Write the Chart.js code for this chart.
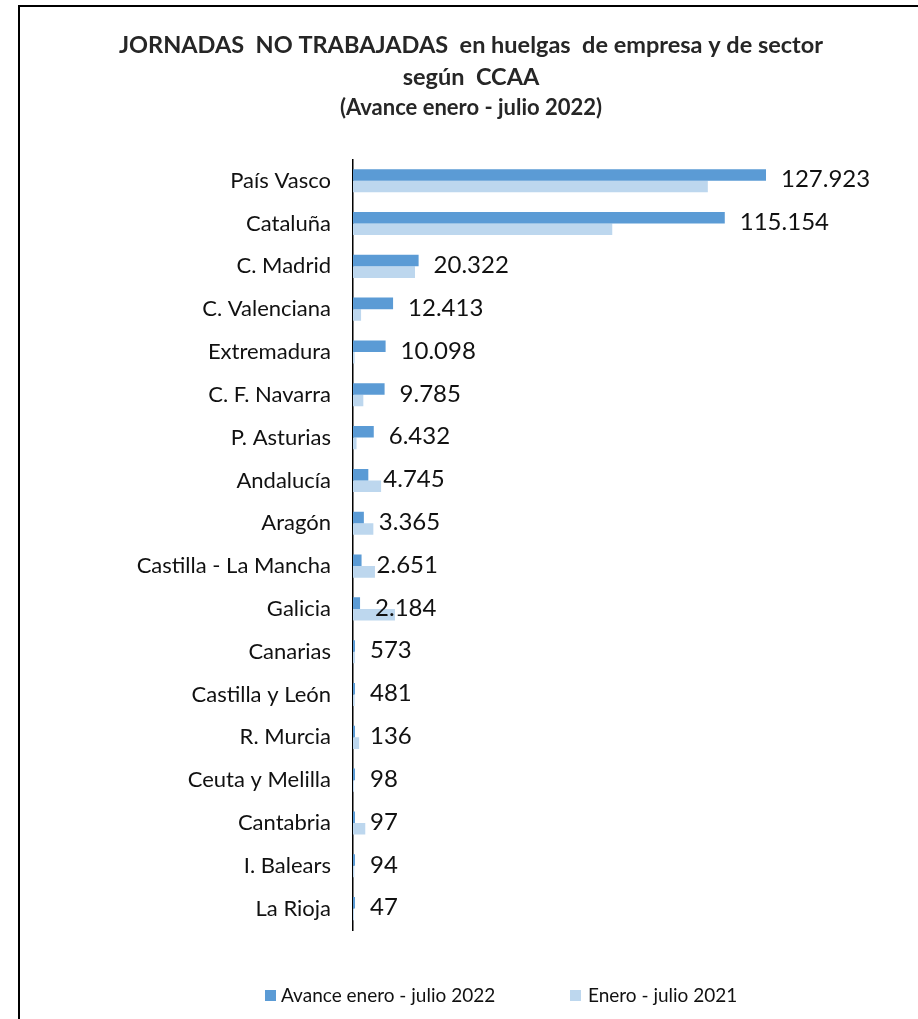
<!DOCTYPE html>
<html>
<head>
<meta charset="utf-8">
<script src="https://cdn.jsdelivr.net/npm/chart.js@4/dist/chart.umd.min.js"></script>
<style>
  body { margin: 0; background: #fff; }
  #frame { position: absolute; left: 18px; top: 5px; width: 920px; height: 1030px; border: 2px solid #000; box-sizing: border-box; }
  #wrap { position: absolute; left: 0; top: 0; width: 918px; height: 1019px; }
</style>
</head>
<body>
<div id="frame"></div>
<div id="wrap"><canvas id="chart"></canvas></div>
<script>
let regions = ["País Vasco", "Cataluña", "C. Madrid", "C. Valenciana", "Extremadura", "C. F. Navarra",
    "P. Asturias", "Andalucía", "Aragón", "Castilla - La Mancha", "Galicia", "Canarias",
    "Castilla y León", "R. Murcia", "Ceuta y Melilla", "Cantabria", "I. Balears", "La Rioja"];
let jornadas2022 = [127923, 115154, 20322, 12413, 10098, 9785, 6432, 4745, 3365, 2651, 2184, 573, 481, 136, 98, 97, 94, 47];
// 2021 (no labels in the picture)
let jornadas2021 = [109900, 80300, 19200, 2500, 500, 3200, 1100, 8700, 6300, 6800, 13000, 600, 500, 1900, 30, 3800, 400, 300];
let seriesNames = ["Avance enero - julio 2022", "Enero - julio 2021"];

function miles(n) {
    return String(n).replace(/\B(?=(\d{3})+(?!\d))/g, ".");
}

let valueLabels = {
    id: 'valueLabels',
    afterDatasetsDraw(chart) {
        let ctx = chart.ctx;
        let meta = chart.getDatasetMeta(0);
        let ys = chart.scales.y;
        ctx.save();
        ctx.font = "24px Lato";
        ctx.fillStyle = "#111";
        ctx.textBaseline = "middle";
        ctx.textAlign = "left";
        meta.data.forEach((bar, i) => {
            ctx.fillText(miles(jornadas2022[i]), bar.x + 15, ys.getPixelForValue(i) - 1);
        });
        ctx.restore();
    }
};

// legend drawn by hand so the spacing matches the original
let bottomLegend = {
    id: 'bottomLegend',
    afterDraw(chart) {
        let ctx = chart.ctx;
        let spots = [265, 570];
        ctx.save();
        ctx.font = "19px Lato";
        ctx.fillStyle = "#111";
        ctx.textBaseline = "middle";
        chart.data.datasets.forEach((ds, i) => {
            ctx.fillStyle = ds.backgroundColor;
            ctx.fillRect(spots[i], 990, 11, 11);
            ctx.fillStyle = "#111";
            ctx.fillText(ds.label, spots[i] + 16 + (i ? 2 : 0), 996);
        });
        ctx.restore();
    }
};

let graph = new Chart(document.getElementById("chart"), {
    type: 'bar',
    data: {
        labels: regions,
        datasets: [{
            label: seriesNames[0],
            data: jornadas2022,
            backgroundColor: '#5B9BD5',
            minBarLength: 2,
            categoryPercentage: 0.54,
            barPercentage: 1
        }, {
            label: seriesNames[1],
            data: jornadas2021,
            backgroundColor: '#BDD7EE',
            minBarLength: 1,
            categoryPercentage: 0.54,
            barPercentage: 1
        }]
    },
    options: {
        indexAxis: 'y',
        responsive: true,
        maintainAspectRatio: false,
        animation: false,
        layout: { padding: { left: 24, right: 0, top: 24, bottom: 89 } },
        plugins: {
            title: {
                display: true,
                text: ["JORNADAS  NO TRABAJADAS  en huelgas  de empresa y de sector", "según  CCAA"],
                color: '#262626',
                font: { family: 'Lato', size: 23.5, weight: 'bold', lineHeight: 1.36 },
                padding: { top: 5, bottom: 1 }
            },
            subtitle: {
                display: true,
                text: "(Avance enero - julio 2022)",
                color: '#262626',
                font: { family: 'Lato', size: 22, weight: 'bold', lineHeight: 1.2 },
                padding: { top: 1, bottom: 38 }
            },
            legend: { display: false },
            tooltip: { enabled: false }
        },
        scales: {
            x: {
                display: false,
                min: 0,
                max: 175000
            },
            y: {
                afterFit: (s) => { s.width = 329; },
                grid: { display: false, drawTicks: false },
                border: { display: true, color: '#000', width: 1.5 },
                ticks: {
                    color: '#111',
                    padding: 22,
                    font: { family: 'Lato', size: 22 }
                }
            }
        }
    },
    plugins: [valueLabels, bottomLegend]
});
</script>
</body>
</html>
